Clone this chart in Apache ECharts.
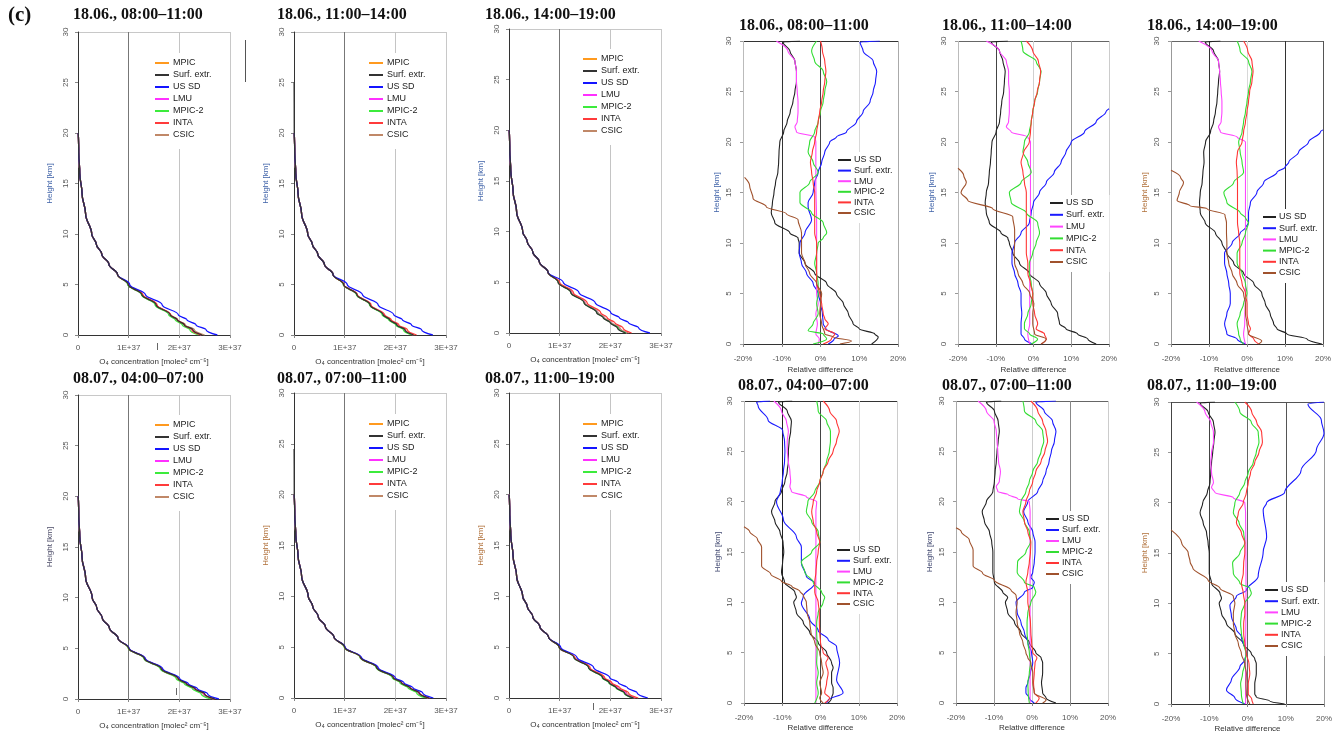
<!DOCTYPE html>
<html><head><meta charset="utf-8">
<script src="https://cdn.jsdelivr.net/npm/echarts/dist/echarts.min.js"></script>
<style>html,body{margin:0;padding:0;background:#fff}#c{width:1338px;height:737px}</style>
</head><body><div id="c"></div><script>
// ---------------- DATA ----------------
const TITLES = ['18.06., 08:00–11:00','18.06., 11:00–14:00','18.06., 14:00–19:00','08.07., 04:00–07:00','08.07., 07:00–11:00','08.07., 11:00–19:00'];
const LEFT_NAMES = ['MPIC','Surf. extr.','US SD','LMU','MPIC-2','INTA','CSIC'];
const RIGHT_NAMES = ['US SD','Surf. extr.','LMU','MPIC-2','INTA','CSIC'];
const X_TICKS_LEFT = ['0','1E+37','2E+37','3E+37'];
const X_TICKS_RIGHT = ['-20%','-10%','0%','10%','20%'];
const Y_TICKS = ['0','5','10','15','20','25','30'];

// O4 concentration profiles, values in units of 1E+37 molec² cm⁻⁵, heights in km
const LOW_H = [0,0.5,1,1.5,2,3,4,5];
const UP_H = [6,7,8,9,10,12,14,16,18,20];
const L1_UP = [0.78,0.61,0.47,0.36,0.27,0.15,0.08,0.035,0.015,0.005];
const L2_UP = [0.77,0.60,0.47,0.36,0.27,0.15,0.08,0.035,0.015,0.005];
const L3_UP = [0.77,0.60,0.47,0.36,0.27,0.15,0.08,0.035,0.015,0.005];
const L4_UP = [0.79,0.62,0.48,0.37,0.28,0.15,0.08,0.035,0.015,0.005];
const L5_UP = [0.79,0.62,0.48,0.37,0.28,0.15,0.08,0.035,0.015,0.005];
const L6_UP = [0.78,0.61,0.47,0.36,0.27,0.15,0.08,0.035,0.015,0.005];

const L1_MPIC  = [2.44,2.26,2.10,1.95,1.82,1.54,1.26,0.99];
const L1_SURF  = [2.45,2.27,2.10,1.96,1.82,1.54,1.26,0.99];
const L1_USSD  = [2.75,2.53,2.33,2.15,1.98,1.66,1.33,1.02];
const L1_LMU   = [2.43,2.25,2.09,1.95,1.81,1.54,1.26,0.99];
const L1_MPIC2 = [2.38,2.21,2.06,1.92,1.79,1.52,1.25,0.98];
const L1_INTA  = [2.42,2.25,2.10,1.96,1.83,1.56,1.28,1.00];
const L1_CSIC  = [2.50,2.30,2.12,1.97,1.83,1.55,1.27,0.99];

const L2_MPIC  = [2.36,2.19,2.03,1.89,1.76,1.50,1.24,0.98];
const L2_SURF  = [2.36,2.19,2.03,1.89,1.76,1.50,1.24,0.98];
const L2_USSD  = [2.74,2.52,2.32,2.14,1.97,1.66,1.35,1.05];
const L2_LMU   = [2.35,2.18,2.03,1.89,1.76,1.50,1.24,0.98];
const L2_MPIC2 = [2.32,2.16,2.01,1.87,1.74,1.49,1.23,0.97];
const L2_INTA  = [2.42,2.24,2.07,1.92,1.79,1.52,1.25,0.98];
const L2_CSIC  = [2.38,2.20,2.04,1.90,1.77,1.50,1.24,0.98];
const L2_SURF_TOP = [[0.004,22],[0.002,25]];

const L3_MPIC  = [2.33,2.17,2.02,1.88,1.75,1.49,1.23,0.97];
const L3_SURF  = [2.30,2.14,2.00,1.86,1.73,1.48,1.22,0.97];
const L3_USSD  = [2.78,2.56,2.36,2.18,2.01,1.70,1.38,1.07];
const L3_LMU   = [2.33,2.17,2.02,1.88,1.75,1.49,1.23,0.97];
const L3_MPIC2 = [2.32,2.16,2.01,1.87,1.74,1.48,1.22,0.97];
const L3_INTA  = [2.42,2.25,2.09,1.94,1.81,1.54,1.27,1.00];
const L3_CSIC  = [2.36,2.19,2.03,1.89,1.76,1.50,1.24,0.98];

const L4_MPIC  = [2.68,2.48,2.30,2.13,1.97,1.64,1.31,1.00];
const L4_SURF  = [2.70,2.50,2.31,2.14,1.98,1.64,1.31,1.00];
const L4_USSD  = [2.78,2.56,2.36,2.18,2.01,1.67,1.33,1.01];
const L4_LMU   = [2.68,2.48,2.30,2.13,1.97,1.64,1.31,1.00];
const L4_MPIC2 = [2.62,2.43,2.26,2.10,1.94,1.62,1.30,0.99];
const L4_INTA  = [2.70,2.50,2.32,2.15,1.98,1.65,1.32,1.00];
const L4_CSIC  = [2.66,2.47,2.29,2.12,1.96,1.63,1.31,1.00];

const L5_MPIC  = [2.65,2.46,2.28,2.11,1.96,1.63,1.31,1.00];
const L5_SURF  = [2.66,2.47,2.29,2.12,1.96,1.63,1.31,1.00];
const L5_USSD  = [2.75,2.54,2.35,2.17,2.00,1.66,1.33,1.01];
const L5_LMU   = [2.65,2.46,2.28,2.11,1.96,1.63,1.31,1.00];
const L5_MPIC2 = [2.60,2.42,2.25,2.09,1.94,1.62,1.30,0.99];
const L5_INTA  = [2.68,2.48,2.30,2.13,1.97,1.64,1.31,1.00];
const L5_CSIC  = [2.64,2.45,2.27,2.11,1.95,1.63,1.31,1.00];
const L5_SURF_TOP = [[0.004,22],[0.002,24.5]];

const L6_MPIC  = [2.48,2.30,2.14,1.99,1.86,1.58,1.29,0.99];
const L6_SURF  = [2.46,2.28,2.12,1.98,1.85,1.57,1.28,0.99];
const L6_USSD  = [2.74,2.53,2.34,2.16,1.99,1.67,1.34,1.02];
const L6_LMU   = [2.48,2.30,2.14,1.99,1.86,1.58,1.29,0.99];
const L6_MPIC2 = [2.45,2.27,2.11,1.97,1.84,1.57,1.28,0.99];
const L6_INTA  = [2.55,2.36,2.19,2.03,1.89,1.60,1.30,1.00];
const L6_CSIC  = [2.50,2.32,2.15,2.00,1.87,1.58,1.29,0.99];

// Relative differences [%, km]
const R1_USSD = [[13.2,0],[14.9,0.7],[14,1],[10,1.5],[8.4,2],[7.2,3],[5.9,4],[4.1,5],[1.6,6],[-1.5,7],[-4,8],[-5.5,9],[-5.5,10],[-5.8,10.5],[-7.9,11],[-11.8,12],[-12.7,13],[-12.4,14],[-12,15],[-11.6,16],[-11,17],[-10.8,18],[-10.7,19],[-10.5,20],[-9.5,21],[-8.6,22],[-7.8,23],[-7.1,24],[-6.6,25],[-6.2,26],[-6.2,27],[-6.6,28],[-7.9,29],[-9.7,29.9],[-5.3,30]];
const R1_SURF = [[2,0],[3.5,0.5],[4.6,0.8],[1.4,1.5],[0.7,2],[0.5,3],[0,4],[-0.6,5],[-1.9,6],[-3.6,7],[-4.9,8],[-5.5,9],[-5.3,10],[-4,11],[-2.3,12.3],[-3.2,13.6],[-3.2,14],[-1.9,15],[-1.5,16],[-0.6,17],[0.3,18],[1.1,19],[2.4,20],[4.1,20.5],[6.7,21],[9.3,22],[11,23],[12.8,24],[13.6,25],[14.2,26],[14.5,27],[13.6,28],[11,29],[10.2,29.9],[15.3,30]];
const R1_LMU = [[-0.6,0],[-0.3,0.5],[-1.2,1],[-0.8,2],[-1.2,3],[-0.6,4],[-1,5],[-1,8],[-1,12],[-1.2,16],[-1.2,20],[-1.5,20.5],[-6.2,21],[-6.6,21.5],[-6,22],[-5.8,23],[-5.8,24],[-6,25],[-6.2,26],[-6.2,27],[-6.6,28],[-8.4,29],[-11.4,30]];
const R1_MPIC2 = [[-1.9,0],[1.6,0.5],[0.7,1],[-3.2,1.3],[-1.9,2],[-0.6,3],[-1,4],[-0.6,5],[-0.6,6],[-1,7],[-1.5,8],[-1,9],[-0.6,10],[0.7,10.5],[1.6,11],[0.7,12],[-2.3,13],[-5.3,14],[-5.3,15],[-2.8,16],[-0.6,17],[-1.9,18],[-3.2,19],[-2.8,20],[-1.5,21],[-0.6,22],[0,23],[0.7,24],[1.1,25],[1.6,26],[0.7,27],[-1.5,28],[-2.3,29],[-1,30]];
const R1_INTA = [[0.7,0],[2.8,0.5],[3.7,1],[1.1,1.5],[2,2],[1.1,2.5],[0.7,3],[0.3,4],[-0.2,5],[-1,6],[-1,10],[-1.5,11],[-1.5,15],[-1.9,16],[-2.3,17],[-2.6,18],[-2.1,19],[-1.5,20],[-1,21],[-0.6,22],[-0.2,23],[0.3,24],[0.7,25],[1.1,26],[1.4,27],[1.1,28],[0.5,29],[0,30]];
const R1_CSIC = [[5,0],[8,0.3],[3.3,0.7],[1.1,1],[0.3,2],[-0.2,3],[0,4],[0.3,5],[-1,6],[-2.8,7],[-4,8],[-4.9,9],[-4.9,10],[-4.9,11],[-5.8,12.3],[-8.8,12.9],[-14,13.6],[-17.4,14.4],[-18.3,15.7],[-19.6,16.5]];

const R2_USSD = [[16.6,0],[14.4,0.5],[11.7,1],[8.6,1.5],[6.9,2],[6.4,3],[4.7,4],[3.4,5],[1.6,6],[-1.1,7],[-3.7,8],[-5.5,9],[-6.4,10],[-6.8,10.5],[-8.6,11],[-11.7,12],[-12.5,13],[-12.8,14],[-12.5,15],[-11.9,16],[-11.7,17],[-11.4,18],[-11.2,19],[-11,20],[-9.9,21],[-9,22],[-8.7,23],[-8.4,24],[-7.9,25],[-7.7,26],[-7.5,27],[-8.1,28],[-9,29],[-11.2,29.9],[-6.8,30]];
const R2_SURF = [[-0.2,0],[-2.4,0.5],[-3.3,1],[-3.3,2],[-3.1,3],[-3.3,4],[-3.3,5],[-4.1,6],[-5,7],[-5.7,8],[-5.7,9],[-5,10],[-3.3,11],[-1.1,12],[-0.6,13],[0,14],[1.6,15],[3.4,16],[5.5,17],[7.3,18],[8.6,19],[10,20],[13.5,21],[16.6,22],[19.2,23],[20,23.3]];
const R2_LMU = [[-1,0],[-1.5,1],[-1,2],[-1,5],[-0.8,10],[-0.8,15],[-0.8,20],[-1.5,20.5],[-5.9,21],[-7.2,21.5],[-6.6,22],[-6.4,23],[-6.4,24],[-6.4,25],[-6.6,26],[-6.6,27],[-7.2,28],[-9,29],[-12.5,30]];
const R2_MPIC2 = [[-0.6,0],[1.1,0.5],[-1,1],[-2.4,1.5],[-2.4,2],[-1.5,3],[-0.6,4],[-0.2,5],[-0.6,6],[-1.1,7],[-1.1,8],[-0.2,9],[0.7,10],[1.6,11],[1.1,12],[-1.9,13],[-5.9,14],[-6.4,15],[-3.3,16],[-0.6,17],[-1.5,18],[-2.8,19],[-2.4,20],[-1.1,21],[-0.6,22],[-0.2,23],[0.3,24],[1.1,25],[1.6,26],[2,27],[0.7,28],[-2.8,29],[-3.3,30]];
const R2_INTA = [[2,0],[3.4,0.5],[2.9,1],[0.7,1.5],[1.1,2],[0.3,3],[-0.2,4],[-0.2,5],[-0.8,6],[-1.5,7],[-1.5,8],[-1.9,9],[-1.9,15],[-2.4,16],[-2.8,17],[-3.3,18],[-2.6,19],[-1.1,20],[-0.8,21],[-0.6,22],[-0.2,23],[0.3,24],[1,25],[1.6,26],[1.9,27],[1.3,28],[-0.2,29],[-1.9,30]];
const R2_CSIC = [[2,0],[3.4,0.5],[0.3,1],[-0.2,2],[-0.2,3],[0.1,4],[-1,5],[-2.8,6],[-4.1,7],[-5,8],[-5.1,9],[-5,10],[-5,11.3],[-5.5,12.6],[-10.8,13.4],[-17.4,14.2],[-19.2,15],[-17.8,16],[-18.5,16.7],[-20,17.4]];

const R3_USSD = [[19.7,0],[15.8,0.5],[10.5,1],[7.9,1.5],[7,2],[6.1,3],[4.8,4],[3.9,5],[1.8,6],[-0.9,7],[-3.5,8],[-5.3,9],[-6.6,10],[-8.3,11],[-11,12],[-12.3,13],[-12.5,14],[-12.3,15],[-11.8,16],[-11.6,17],[-11.3,18],[-11.4,19],[-10.9,20],[-9.6,21],[-8.8,22],[-8.3,23],[-7.9,24],[-7.7,25],[-7.5,26],[-7.2,27],[-7.5,28],[-8.8,29],[-11,29.9],[-7,30]];
const R3_SURF = [[-0.4,0],[-2.6,0.5],[-5.3,1],[-5.9,2],[-5.3,3],[-4.4,4],[-4.4,5],[-4.8,6],[-5.3,7],[-5.9,8],[-5.9,9],[-3.9,10],[-1.8,11],[-0.4,11.5],[0.4,12],[0.4,13],[0.9,14],[2.6,15],[4.4,16],[7.9,17],[10,17.5],[11,18],[13.6,19],[16.2,20],[19.3,21],[20,21.2]];
const R3_LMU = [[-0.4,0],[-0.9,1],[-0.6,2],[-0.4,5],[-0.4,10],[-0.4,15],[-0.4,20],[-2.6,20.5],[-7,21],[-7.5,21.5],[-6.8,22],[-6.6,23],[-6.6,24],[-6.8,25],[-7,26],[-7.2,27],[-7.5,28],[-9.2,29],[-12.7,30]];
const R3_MPIC2 = [[-0.9,0],[-1.8,0.5],[-2.2,1],[-2.6,2],[-1.8,3],[-0.9,4],[0,5],[-0.4,6],[-1.3,7],[-2.6,8],[-2.6,9],[-1.3,10],[-0.4,11],[0.4,12],[-0.4,12.5],[-1.8,13],[-5.3,14],[-6.1,15],[-3.5,16],[-0.9,17],[-1.3,18],[-1.8,19],[-2.2,20],[-1.3,21],[-0.9,22],[-0.4,23],[0,24],[0.4,25],[0.9,26],[1.3,27],[0.4,28],[-1.8,29],[-2.6,30]];
const R3_INTA = [[3.1,0],[1.8,0.5],[0.4,1],[0.9,1.5],[0.4,2],[0,3],[0,4],[-0.4,5],[-1.3,6],[-1.9,7],[-1.9,10],[-2.2,11],[-2.5,12],[-2.5,16],[-2.6,17],[-2.8,18],[-2.5,19],[-1.3,20],[-0.9,21],[-0.4,22],[0,23],[0.4,24],[0.7,25],[1.3,26],[1.6,27],[1.3,28],[0.2,29],[-0.9,30]];
const R3_CSIC = [[3.1,0],[3.9,0.3],[0.4,1],[0,2],[-0.4,3],[-0.4,4],[-0.9,5],[-2.6,6],[-3.9,7],[-4.8,8],[-5.3,9],[-5.3,10],[-5.4,11],[-5.4,12],[-5.8,12.8],[-10.5,13.4],[-15,13.7],[-18.4,14.2],[-17.8,15],[-16.7,16],[-17.5,16.5],[-20,17.2]];

const R4_USSD = [[2,0],[2.9,0.5],[3.3,1],[3.3,1.5],[2.9,2],[2.9,3],[3.3,3.5],[2.9,4],[1.6,5],[-0.6,6],[-2.8,7],[-4.5,8],[-6.3,9],[-7,10],[-6.3,10.5],[-6.7,11],[-9.4,12],[-10.2,13],[-9.9,14],[-9.6,15],[-9.8,16],[-10.6,17],[-11.9,18],[-12.8,19],[-11.9,20],[-10.2,21],[-9.3,22],[-8.7,23],[-8.4,24],[-8.4,25],[-8.2,26],[-7.8,27],[-7.6,28],[-8.7,29],[-11,29.9],[-7.4,30]];
const R4_SURF = [[1.6,0],[2,0.3],[5.9,1],[4.2,2.3],[5,4],[4.2,5.6],[2,6.3],[-0.6,7.2],[-2.8,8.3],[-5,9.9],[-4.5,10.6],[-1.5,11.9],[-3.7,12.6],[-5,13.9],[-5,15.5],[-6.3,16.5],[-9.7,18.2],[-11.5,20],[-10.5,21],[-10,22],[-9.7,23],[-9.4,24],[-9.3,25],[-9.4,26],[-9.9,27.1],[-13.7,28.1],[-16.3,29.5],[-16.7,29.9],[-13.2,30]];
const R4_LMU = [[-1.2,0],[-1.2,5],[-1.2,10],[-1.2,15],[-1.2,19],[-1,20],[-3.7,20.5],[-7.6,21],[-8,21.5],[-7.8,22],[-8,23],[-8.4,24],[-8.7,25],[-8.7,26],[-8.4,27],[-8.9,28],[-10.2,29],[-12.2,30]];
const R4_MPIC2 = [[-1.5,0],[-0.6,1],[-1,2],[-0.6,3],[-1,4],[-0.9,5],[-0.9,6],[-1,7],[-1,8],[-0.6,9],[0.7,10],[1.1,10.5],[0.3,11],[-1.9,12],[-4.1,13],[-5,14],[-2.3,15],[-0.2,16],[-0.6,17],[-2.3,18],[-3.7,19],[-3.3,20],[-1.5,21],[-0.2,22],[0.7,23],[1.6,24],[2.3,25],[2.6,26],[2.6,27],[1.6,28],[-0.6,29],[-1,30]];
const R4_INTA = [[1.1,0],[2.4,0.5],[1.1,1],[1.6,2],[2,3],[1.4,4],[2,4.5],[0.7,5],[0,6],[-0.2,7],[-0.3,8],[-0.3,9],[-0.6,10],[-1.5,11],[-1.5,12],[-1.2,13],[-1,14],[-0.6,15],[-0.2,16],[-1,17],[-1.9,18],[-2.3,19],[-1.9,20],[-1,21],[-0.2,22],[0.7,23],[2,24],[3.3,25],[4.2,26],[4.9,27],[4.2,28],[2.4,29],[0.7,30]];
const R4_CSIC = [[0.7,0],[-0.2,0.5],[0.3,1],[-0.2,2],[0.7,3],[0.3,4],[-0.2,5],[-1.5,6],[-2.5,7],[-2.8,8],[-3.5,9],[-3.7,10],[-4.5,10.7],[-5.4,11.1],[-7.5,11.6],[-10.2,12.1],[-13,12.8],[-15.4,13.6],[-15.4,15.5],[-16.5,16.3],[-18.5,17],[-20,17.5]];

const R5_USSD = [[6.3,0],[3.7,0.5],[2.8,1],[2.5,2],[2.8,3],[2.8,4],[2.4,4.5],[1,5],[-0.7,6],[-2.9,7],[-4.6,8],[-6.4,9],[-7,10],[-6.4,10.5],[-7.7,11],[-9.9,12],[-10.3,13],[-10.3,14],[-10.3,15],[-10.6,16],[-11.2,17],[-12.5,18],[-13.1,19],[-12,20],[-10.3,21],[-9.9,22],[-9.7,23],[-9.4,24],[-9.2,25],[-8.9,26],[-8.6,27],[-8.9,28],[-9.9,29],[-12,29.9],[-8.1,30]];
const R5_SURF = [[0.6,0],[-0.7,0.5],[-1.6,1],[-1.6,1.5],[-1.1,2],[-0.4,3],[0.2,4],[-0.1,5],[-1.1,6],[-2,7],[-2.9,8],[-3.9,9],[-4.2,10],[-2,11],[0.2,11.5],[0.6,12],[-0.3,12.5],[0.2,13],[0.6,14],[0.8,15],[0.8,16],[0.2,17],[-1.1,18],[-2.2,19],[-1.1,20],[1.5,21],[2.8,22],[3.7,23],[4.5,24],[5.1,25],[5.9,26],[6.3,27],[5.4,28],[3.2,29],[1,29.9],[6.3,30]];
const R5_LMU = [[-0.5,0],[-0.5,5],[-0.5,10],[-0.5,15],[-0.5,19],[-0.7,20],[-3.8,20.3],[-6.3,20.7],[-9,21],[-9.4,21.5],[-8.6,22],[-8.3,23],[-8.8,24],[-9,25],[-9.2,26],[-9.4,27],[-10,28],[-12,29],[-14.2,30]];
const R5_MPIC2 = [[-0.7,0],[-1,1],[-1.1,2],[-0.7,3],[-0.4,4],[-0.7,5],[-1.1,6],[-1.3,7],[-1.3,8],[-1.1,9],[-0.3,10],[1,11],[0.6,11.5],[-2,12],[-3.9,13],[-3.8,14],[-1.6,15],[-0.4,16],[-0.7,17],[-2,18],[-3.3,19],[-2.9,20],[-1.6,21],[-0.7,22],[0.2,23],[1.5,24],[2.4,25],[3.1,26],[2.8,27],[1,28],[-2,29],[-2.4,30]];
const R5_INTA = [[1,0],[1.9,0.5],[0.6,1],[0.4,2],[0.6,3],[0.8,4],[1.3,4.5],[0.2,5],[-0.1,6],[-0.3,7],[-0.4,8],[-0.7,9],[-1.1,10],[-1.1,11],[-1.6,12],[-1.1,13],[-0.7,14],[-0.4,15],[-0.3,16],[-1.1,17],[-2,18],[-2.4,19],[-1.6,20],[-0.7,21],[0.2,22],[1,23],[2.4,24],[3.4,25],[4.1,26],[3.7,27],[2.8,28],[1.5,29],[-0.3,30]];
const R5_CSIC = [[2.8,0],[3.7,0.3],[0.6,1],[0.2,2],[0.2,3],[-0.3,4],[-1.1,4.5],[-1.6,5],[-2.4,6],[-3.3,7],[-3.9,8],[-4.2,9],[-3.9,10],[-4.2,10.7],[-5.5,11.2],[-9.9,12.2],[-13,12.9],[-15.5,13.6],[-15.5,15.2],[-16.5,16.2],[-18.6,17],[-20,17.4]];

const R6_USSD = [[9.7,0],[5.8,0.3],[2.3,0.7],[1.9,1],[1.9,2],[2.3,3],[2.3,4],[1.9,4.5],[1,5],[-1.1,6],[-3.3,7],[-5.5,8],[-6.8,9],[-7.4,10],[-6.8,10.5],[-7.2,11],[-9.4,12],[-10,13],[-10,14],[-10,15],[-10.3,16],[-10.7,17],[-11.6,18],[-12.4,19],[-11.7,20],[-10.5,21],[-9.8,22],[-9.6,23],[-9.4,24],[-9.1,25],[-8.8,26],[-8.5,27],[-8.9,28],[-10.3,29],[-12.4,29.9],[-8.5,30]];
const R6_SURF = [[-0.7,0],[-3.3,0.6],[-5.5,1.4],[-4.2,2.4],[-2,3.7],[-0.7,4.4],[-0.3,5],[-1.6,6.7],[-2.9,7.4],[-4.2,8.7],[-4.6,9.8],[-2.9,10.7],[-0.3,11.3],[2.8,12.7],[4.1,15.1],[5,16.6],[4.1,19.3],[5,20],[9.7,21],[14,23.2],[18,25.2],[20,26.9],[19.3,28.2],[15.8,29.8],[20,30]];
const R6_LMU = [[-0.5,0],[-0.5,5],[-0.4,10],[-0.4,15],[-0.5,19],[-0.7,20],[-3.7,20.5],[-8.5,21],[-9.4,21.5],[-8.9,22],[-9.4,23],[-9.6,24],[-9.4,25],[-8.9,26],[-8.9,27],[-9.6,28],[-11.1,29],[-13.3,30]];
const R6_MPIC2 = [[-1.1,0],[-1.6,1],[-1.8,2],[-1.3,3],[-0.7,4],[-0.4,5],[-1,6],[-1.6,7],[-1.8,8],[-1.6,9],[-0.7,10],[1,11],[0.6,11.5],[-2,12],[-3.7,13],[-3.9,14],[-2,15],[-0.7,16],[-1,17],[-2.2,18],[-3.7,19],[-3.3,20],[-2,21],[-0.7,22],[0.2,23],[1.5,24],[2.3,25],[3,26],[2.8,27],[1,28],[-2,29],[-3.3,30]];
const R6_INTA = [[1.5,0],[1.1,0.5],[0.2,1],[0.2,2],[0.6,3],[0.4,4],[-0.3,5],[-0.7,6],[-1,7],[-1,8],[-0.7,9],[-0.7,10],[-1.1,11],[-1.6,12],[-1.1,13],[-1,14],[-0.7,15],[-0.7,16],[-1.6,17],[-2.9,18],[-2.4,19],[-1.1,20],[-0.3,21],[0.2,22],[0.8,23],[1.9,24],[3,25],[3.9,26],[3.7,27],[2.4,28],[1.1,29],[-0.7,30]];
const R6_CSIC = [[0.6,0],[-0.3,1],[-0.4,2],[-0.3,3],[-0.7,4],[-1.6,5],[-2.4,6],[-3.3,7],[-3.7,8],[-3.7,9],[-3.3,10],[-3.7,10.7],[-7.2,11.5],[-10.3,12.3],[-14.3,13.5],[-15,14.1],[-15.5,15],[-17.2,16],[-20,17.3]];

// ---------------- LAYOUT & STYLE ----------------
const LEFT_COLORS = ['#FF9A1F','#333333','#1414FF','#FF30FF','#3CEB3C','#FF3B3B','#C08868'];
const LEFT_Z = [2.1, 2.7, 2.6, 2.2, 2.3, 2.5, 2.0];   // drawing order (CSIC lowest, Surf. extr. on top)
const RIGHT_COLORS = ['#222222','#1a1aff','#FF45FF','#33DD33','#FF3535','#A0522D'];
const FONT = '"Liberation Sans", Arial, sans-serif';
const SERIF = '"Liberation Serif", "Times New Roman", serif';

const LEFT_PANELS = [
  {l:78, t:32, w:152,h:303, tx:73, ty:7,   lg:[155,53], name:'#3f62a8', low:[L1_MPIC,L1_SURF,L1_USSD,L1_LMU,L1_MPIC2,L1_INTA,L1_CSIC], up:L1_UP, top:{}},
  {l:294,t:32, w:152,h:303, tx:277,ty:7,   lg:[369,53], name:'#3f62a8', low:[L2_MPIC,L2_SURF,L2_USSD,L2_LMU,L2_MPIC2,L2_INTA,L2_CSIC], up:L2_UP, top:{1:L2_SURF_TOP}},
  {l:509,t:29, w:152,h:304, tx:485,ty:7,   lg:[583,49], name:'#3f62a8', low:[L3_MPIC,L3_SURF,L3_USSD,L3_LMU,L3_MPIC2,L3_INTA,L3_CSIC], up:L3_UP, top:{}},
  {l:78, t:395,w:152,h:304, tx:73, ty:371, lg:[155,415], name:'#4a4a66', low:[L4_MPIC,L4_SURF,L4_USSD,L4_LMU,L4_MPIC2,L4_INTA,L4_CSIC], up:L4_UP, top:{}},
  {l:294,t:393,w:152,h:305, tx:277,ty:371, lg:[369,414], name:'#b0703a', low:[L5_MPIC,L5_SURF,L5_USSD,L5_LMU,L5_MPIC2,L5_INTA,L5_CSIC], up:L5_UP, top:{1:L5_SURF_TOP}},
  {l:509,t:393,w:152,h:305, tx:485,ty:371, lg:[583,414], name:'#b0703a', low:[L6_MPIC,L6_SURF,L6_USSD,L6_LMU,L6_MPIC2,L6_INTA,L6_CSIC], up:L6_UP, top:{}}
];
const RIGHT_PANELS = [
  {l:743, t:41, w:155,h:303, tx:739, ty:18, lg:[838,152], pitch:10.6, name:'#3f62a8', split:['#bbb','#333','#444','#d8d8d8','#aaa'], topc:'#333', d:[R1_USSD,R1_SURF,R1_LMU,R1_MPIC2,R1_INTA,R1_CSIC]},
  {l:958, t:41, w:151,h:303, tx:942, ty:18, lg:[1050,195], pitch:11.8, name:'#3f62a8', split:['#bbb','#444','#d0d0d0','#999','#ccc'], topc:'#666', d:[R2_USSD,R2_SURF,R2_LMU,R2_MPIC2,R2_INTA,R2_CSIC]},
  {l:1171,t:41, w:152,h:303, tx:1147,ty:18, lg:[1263,209], pitch:11.2, name:'#b0703a', split:['#999','#333','#d8d8d8','#333','#555'], topc:'#666', d:[R3_USSD,R3_SURF,R3_LMU,R3_MPIC2,R3_INTA,R3_CSIC]},
  {l:744, t:401,w:153,h:302, tx:738, ty:378, lg:[837,542], pitch:10.8, name:'#404870', split:['#bbb','#222','#444','#d8d8d8','#ccc'], topc:'#333', d:[R4_USSD,R4_SURF,R4_LMU,R4_MPIC2,R4_INTA,R4_CSIC]},
  {l:956, t:401,w:152,h:302, tx:942, ty:378, lg:[1046,511], pitch:11,   name:'#404870', split:['#aaa','#999','#ccc','#888','#ccc'], topc:'#666', d:[R5_USSD,R5_SURF,R5_LMU,R5_MPIC2,R5_INTA,R5_CSIC]},
  {l:1171,t:402,w:153,h:302, tx:1147,ty:378, lg:[1265,582], pitch:11.2, name:'#b0703a', split:['#444','#444','#666','#555','#999'], topc:'#555', d:[R6_USSD,R6_SURF,R6_LMU,R6_MPIC2,R6_INTA,R6_CSIC]}
];

// ---------------- BUILD ----------------
const grid=[], xAxis=[], yAxis=[], series=[], legend=[], title=[];
title.push({text:'(c)', left:8, top:5, padding:0, textStyle:{fontFamily:SERIF, fontWeight:'bold', fontSize:21, color:'#111'}});

const CLEAR = 'rgba(0,0,0,0)';
function yAxisCfg(gi, p, margin, gap, topColor, tickColor, showLine){
  return {type:'value', gridIndex:gi, min:0, max:30, interval:5,
    name:'Height [km]', nameLocation:'middle', nameRotate:90, nameGap:gap,
    nameTextStyle:{fontFamily:FONT, fontSize:8, color:p.name},
    axisLine:{show:showLine, onZero:false, lineStyle:{color:'#333', width:1}},
    axisTick:{show:true, length:3, lineStyle:{color:tickColor}},
    axisLabel:{rotate:90, fontSize:8, fontFamily:FONT, color:'#555', margin:margin,
      formatter:v=>Y_TICKS[Math.round(v/5)]},
    splitLine:{show:true, showMinLine:true, showMaxLine:true,
      lineStyle:{width:1, color:[CLEAR,CLEAR,CLEAR,CLEAR,CLEAR,CLEAR,topColor]}}};
}

LEFT_PANELS.forEach((p,i)=>{
  const gi = grid.length;
  grid.push({left:p.l, top:p.t, width:p.w, height:p.h, containLabel:false, outerBoundsMode:'none'});
  xAxis.push({type:'value', gridIndex:gi, min:0, max:3, interval:1,
    name:'O₄ concentration [molec² cm⁻⁵]', nameLocation:'middle', nameGap:23,
    nameTextStyle:{fontFamily:FONT, fontSize:8, color:'#333'},
    axisLine:{show:true, onZero:false, lineStyle:{color:'#333', width:1}},
    axisTick:{show:true, length:3, lineStyle:{color:'#888'}},
    axisLabel:{fontSize:8, fontFamily:FONT, color:'#555', margin:9, formatter:v=>X_TICKS_LEFT[Math.round(v)]},
    splitLine:{show:true, showMinLine:true, showMaxLine:true, lineStyle:{width:1, color:['#333','#777','#c4c4c4','#c8c8c8']}}});
  yAxis.push(yAxisCfg(gi, p, 8, 24, '#c8c8c8', '#888', true));
  title.push({text:TITLES[i], left:p.tx, top:p.ty, padding:0, textStyle:{fontFamily:SERIF, fontWeight:'bold', fontSize:16, color:'#111'}});
  LEFT_NAMES.forEach((n,k)=>{
    const low = p.low[k];
    let pts = LOW_H.map((h,j)=>[low[j],h]).concat(UP_H.map((h,j)=>[p.up[j],h]));
    if (p.top[k]) pts = pts.concat(p.top[k]);
    series.push({type:'line', name:n, xAxisIndex:gi, yAxisIndex:gi, data:pts, showSymbol:false, symbol:'none',
      smooth:0.4, smoothMonotone:'y', silent:true, z:LEFT_Z[k],
      itemStyle:{color:LEFT_COLORS[k]}, lineStyle:{color:LEFT_COLORS[k], width:1.3}});
  });
  legend.push({orient:'vertical', left:p.lg[0]-4, top:p.lg[1], padding:[5,8,9,4], itemGap:2, itemWidth:14, itemHeight:2,
    icon:'rect', backgroundColor:'#fff', selectedMode:false,
    textStyle:{fontFamily:FONT, fontSize:9, color:'#222', lineHeight:10, padding:[0,0,0,-1]},
    data:LEFT_NAMES.map((n,k)=>({name:n, itemStyle:{color:LEFT_COLORS[k]}}))});
});

RIGHT_PANELS.forEach((p,i)=>{
  const gi = grid.length;
  grid.push({left:p.l, top:p.t, width:p.w, height:p.h, containLabel:false, outerBoundsMode:'none'});
  xAxis.push({type:'value', gridIndex:gi, min:-20, max:20, interval:10,
    name:'Relative difference', nameLocation:'middle', nameGap:(i<3?22:21),
    nameTextStyle:{fontFamily:FONT, fontSize:8, color:'#333'},
    axisLine:{show:true, onZero:false, lineStyle:{color:'#333', width:1}},
    axisTick:{show:true, length:3, lineStyle:{color:'#888'}},
    axisLabel:{fontSize:8, fontFamily:FONT, color:'#555', margin:11, formatter:v=>X_TICKS_RIGHT[Math.round((v+20)/10)]},
    splitLine:{show:true, showMinLine:true, showMaxLine:true, lineStyle:{width:1, color:p.split}}});
  yAxis.push(yAxisCfg(gi, p, 10, 22, p.topc, '#999', false));
  title.push({text:TITLES[i], left:p.tx, top:p.ty, padding:0, textStyle:{fontFamily:SERIF, fontWeight:'bold', fontSize:16, color:'#111'}});
  RIGHT_NAMES.forEach((n,k)=>{
    series.push({type:'line', name:n, xAxisIndex:gi, yAxisIndex:gi, data:p.d[k], showSymbol:false, symbol:'none',
      smooth:0.35, smoothMonotone:'y', silent:true, z:2+k*0.01,
      itemStyle:{color:RIGHT_COLORS[k]}, lineStyle:{color:RIGHT_COLORS[k], width:1.1}});
  });
  legend.push({orient:'vertical', left:p.lg[0]-3, top:p.lg[1], padding:[3,5,5,3], itemGap:p.pitch-10, itemWidth:13, itemHeight:2,
    icon:'rect', backgroundColor:'#fff', selectedMode:false,
    textStyle:{fontFamily:FONT, fontSize:9, color:'#222', lineHeight:10, padding:[0,0,0,-2]},
    data:RIGHT_NAMES.map((n,k)=>({name:n, itemStyle:{color:RIGHT_COLORS[k]}}))});
});

// small stray marks present in the original figure
const graphic = [
  {type:'line', shape:{x1:245.5,y1:40,x2:245.5,y2:82}, style:{stroke:'#555', lineWidth:1}, silent:true},
  {type:'line', shape:{x1:157.5,y1:343,x2:157.5,y2:350}, style:{stroke:'#666', lineWidth:1}, silent:true},
  {type:'line', shape:{x1:176.5,y1:688,x2:176.5,y2:695}, style:{stroke:'#666', lineWidth:1}, silent:true},
  {type:'line', shape:{x1:593.5,y1:703,x2:593.5,y2:710}, style:{stroke:'#666', lineWidth:1}, silent:true},
  {type:'polyline', shape:{points:[[840,556.5],[844.5,556.5],[844.5,576]]}, style:{stroke:'#444', lineWidth:1, fill:null}, silent:true}
];

const chart = echarts.init(document.getElementById('c'), null, {renderer:'canvas', width:1338, height:737});
chart.setOption({animation:false, backgroundColor:'#fff', title, grid, xAxis, yAxis, series, legend, graphic});
</script></body></html>
